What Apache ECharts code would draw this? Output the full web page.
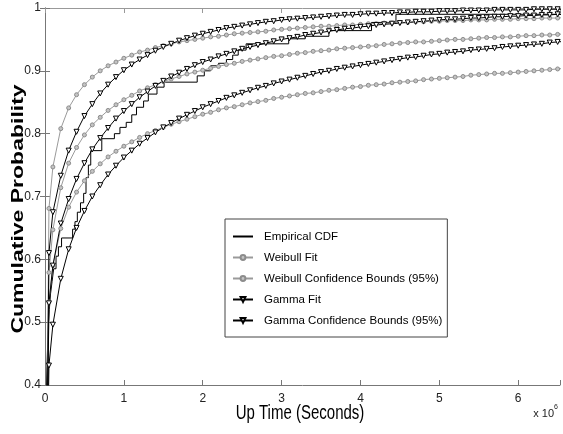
<!DOCTYPE html>
<html>
<head>
<meta charset="utf-8">
<script src="https://cdn.jsdelivr.net/npm/echarts@6/dist/echarts.min.js"></script>
<style>
html, body { margin: 0; padding: 0; background: #fff; }
#idChart { width: 563px; height: 434px; }
</style>
</head>
<body>
<div id="idChart"></div>
<script>
// up time in units of 10^6 seconds
var upTime = [0, 0.05, 0.1, 0.2, 0.3, 0.4, 0.5, 0.6, 0.7, 0.8, 0.9, 1.0,
  1.1, 1.2, 1.3, 1.4, 1.5, 1.6, 1.7, 1.8, 1.9, 2.0,
  2.1, 2.2, 2.3, 2.4, 2.5, 2.6, 2.7, 2.8, 2.9, 3.0,
  3.1, 3.2, 3.3, 3.4, 3.5, 3.6, 3.7, 3.8, 3.9, 4.0,
  4.1, 4.2, 4.3, 4.4, 4.5, 4.6, 4.7, 4.8, 4.9, 5.0,
  5.1, 5.2, 5.3, 5.4, 5.5, 5.6, 5.7, 5.8, 5.9, 6.0,
  6.1, 6.2, 6.3, 6.4, 6.5,
  6.6];

var weibullFit = [0, 0.579, 0.647, 0.714, 0.753, 0.778, 0.798, 0.814, 0.826, 0.837, 0.846, 0.854,
  0.861, 0.868, 0.873, 0.878, 0.883, 0.887, 0.891, 0.895, 0.898, 0.901,
  0.904, 0.907, 0.910, 0.912, 0.915, 0.917, 0.919, 0.921, 0.923, 0.924,
  0.926, 0.928, 0.929, 0.931, 0.932, 0.933, 0.935, 0.936, 0.937, 0.938,
  0.939, 0.940, 0.942, 0.943, 0.944, 0.945, 0.946, 0.946, 0.947, 0.948,
  0.949, 0.950, 0.950, 0.951, 0.952, 0.953, 0.953, 0.954, 0.954, 0.955,
  0.956, 0.956, 0.957, 0.957, 0.958,
  0.959];

var weibullUpper = [0, 0.681, 0.747, 0.808, 0.841, 0.862, 0.878, 0.890, 0.900, 0.908, 0.914, 0.920,
  0.925, 0.930, 0.933, 0.937, 0.940, 0.943, 0.946, 0.948, 0.950, 0.952,
  0.954, 0.955, 0.957, 0.959, 0.960, 0.961, 0.962, 0.963, 0.965, 0.966,
  0.967, 0.968, 0.969, 0.970, 0.971, 0.971, 0.972, 0.973, 0.973, 0.974,
  0.975, 0.975, 0.976, 0.976, 0.977, 0.977, 0.978, 0.978, 0.979, 0.979,
  0.980, 0.980, 0.980, 0.981, 0.981, 0.981, 0.982, 0.982, 0.982, 0.983,
  0.983, 0.983, 0.984, 0.984, 0.984,
  0.985];

var weibullLower = [0, 0.532, 0.590, 0.649, 0.683, 0.707, 0.725, 0.740, 0.752, 0.763, 0.772, 0.780,
  0.787, 0.794, 0.800, 0.805, 0.810, 0.815, 0.819, 0.823, 0.827, 0.831,
  0.834, 0.838, 0.841, 0.843, 0.846, 0.849, 0.851, 0.853, 0.856, 0.858,
  0.860, 0.862, 0.864, 0.865, 0.867, 0.869, 0.870, 0.872, 0.874, 0.875,
  0.877, 0.878, 0.879, 0.881, 0.882, 0.883, 0.884, 0.886, 0.887, 0.888,
  0.889, 0.890, 0.891, 0.893, 0.894, 0.895, 0.896, 0.896, 0.897, 0.898,
  0.899, 0.900, 0.901, 0.902, 0.903,
  0.904];

var gammaFit = [0, 0.530, 0.590, 0.657, 0.696, 0.728, 0.753, 0.775, 0.793, 0.809, 0.824, 0.836,
  0.847, 0.858, 0.867, 0.876, 0.884, 0.891, 0.897, 0.903, 0.909, 0.914,
  0.918, 0.923, 0.927, 0.931, 0.935, 0.938, 0.941, 0.944, 0.947, 0.950,
  0.952, 0.954, 0.957, 0.959, 0.961, 0.963, 0.965, 0.967, 0.968, 0.970,
  0.971, 0.973, 0.974, 0.975, 0.976, 0.977, 0.978, 0.979, 0.980, 0.981,
  0.982, 0.982, 0.983, 0.984, 0.984, 0.985, 0.986, 0.986, 0.987, 0.987,
  0.988, 0.988, 0.989, 0.989, 0.990,
  0.990];

var gammaUpper = [0, 0.610, 0.675, 0.733, 0.773, 0.803, 0.828, 0.847, 0.864, 0.878, 0.890, 0.901,
  0.910, 0.918, 0.925, 0.932, 0.938, 0.943, 0.948, 0.952, 0.956, 0.959,
  0.962, 0.965, 0.968, 0.970, 0.972, 0.974, 0.976, 0.978, 0.979, 0.981,
  0.982, 0.983, 0.984, 0.985, 0.986, 0.987, 0.988, 0.989, 0.989, 0.990,
  0.991, 0.991, 0.992, 0.992, 0.993, 0.993, 0.994, 0.994, 0.994, 0.995,
  0.995, 0.995, 0.996, 0.996, 0.996, 0.996, 0.997, 0.997, 0.997, 0.997,
  0.997, 0.998, 0.998, 0.998, 0.998,
  0.998];

var gammaLower = [0, 0.431, 0.496, 0.569, 0.616, 0.650, 0.677, 0.700, 0.718, 0.735, 0.749, 0.762,
  0.773, 0.784, 0.793, 0.802, 0.810, 0.817, 0.824, 0.830, 0.836, 0.842,
  0.847, 0.852, 0.857, 0.861, 0.865, 0.869, 0.873, 0.876, 0.880, 0.883,
  0.886, 0.889, 0.892, 0.895, 0.898, 0.900, 0.903, 0.905, 0.907, 0.909,
  0.911, 0.913, 0.915, 0.917, 0.919, 0.921, 0.922, 0.924, 0.926, 0.927,
  0.929, 0.930, 0.931, 0.933, 0.934, 0.935, 0.936, 0.938, 0.939, 0.940,
  0.941, 0.942, 0.943, 0.945, 0.946,
  0.947];

// empirical CDF: level starts at each time
var ecdfTime = [0.015, 0.025, 0.035, 0.045, 0.055, 0.07, 0.09, 0.11, 0.14, 0.17,
  0.21, 0.35, 0.38, 0.41, 0.45, 0.49, 0.52, 0.55, 0.58, 0.72,
  0.88, 0.95, 1.03, 1.1, 1.16, 1.25, 1.31, 1.42, 1.51, 1.93,
  2.02, 2.1, 2.2, 2.3, 2.38, 2.45, 2.55, 3.09, 3.3, 3.6,
  4.14, 4.45, 6.6];
var ecdfProb = [0.38, 0.43, 0.47, 0.50, 0.52, 0.545, 0.565, 0.585, 0.605, 0.62,
  0.634, 0.648, 0.66, 0.675, 0.69, 0.705, 0.73, 0.75, 0.773, 0.792,
  0.80, 0.81, 0.818, 0.83, 0.842, 0.852, 0.863, 0.874, 0.882, 0.892,
  0.90, 0.908, 0.912, 0.918, 0.925, 0.933, 0.943, 0.951, 0.955, 0.964,
  0.977, 0.99, 0.99];

var xTicks = [0, 1, 2, 3, 4, 5, 6];
var yTicks = ['0.4', '0.5', '0.6', '0.7', '0.8', '0.9', '1'];

var legendNames = ['Empirical CDF', 'Weibull Fit', 'Weibull Confidence Bounds (95%)',
  'Gamma Fit', 'Gamma Confidence Bounds (95%)'];

var font = '"Liberation Sans", Arial, sans-serif';

function pairs(xs, ys) {
  return xs.map(function (x, i) { return [x, ys[i]]; });
}

function weibullSeries(name, ys) {
  return {
    name: name, type: 'line', data: pairs(upTime, ys),
    symbol: 'circle', symbolSize: 4, showAllSymbol: true,
    lineStyle: { color: '#9a9a9a', width: 1 },
    itemStyle: { color: '#c4c4c4', borderColor: '#8c8c8c', borderWidth: 1 },
    emphasis: { disabled: true }
  };
}

function gammaSeries(name, ys) {
  return {
    name: name, type: 'line', data: pairs(upTime, ys),
    symbol: 'triangle', symbolRotate: 180, symbolSize: 5, showAllSymbol: true,
    lineStyle: { color: '#000', width: 1 },
    itemStyle: { color: '#fff', borderColor: '#000', borderWidth: 1 },
    emphasis: { disabled: true }
  };
}

var axisGray = '#777';

var Options = {
  animation: false,
  backgroundColor: '#fff',
  grid: { left: 45, right: 1, top: 8, bottom: 49 },
  xAxis: [{
    type: 'value', min: 0, max: 6.53, interval: 1,
    axisLine: { show: true, lineStyle: { color: axisGray } },
    axisTick: { inside: true, length: 5, lineStyle: { color: axisGray } },
    splitLine: { show: false },
    axisLabel: {
      color: '#222', fontFamily: font, fontSize: 12, margin: 8,
      formatter: function (v) { return xTicks.indexOf(v) >= 0 ? String(v) : ''; }
    }
  }, {
    type: 'value', position: 'top', min: 0, max: 6.53, interval: 1,
    axisLine: { show: true, lineStyle: { color: '#999' } },
    axisTick: { inside: true, length: 5, lineStyle: { color: '#999' } },
    axisLabel: { show: false }, splitLine: { show: false }
  }],
  yAxis: [{
    type: 'value', min: 0.4, max: 1, interval: 0.1,
    axisLine: { show: true, lineStyle: { color: axisGray } },
    axisTick: { inside: true, length: 5, lineStyle: { color: axisGray } },
    splitLine: { show: false },
    axisLabel: {
      color: '#222', fontFamily: font, fontSize: 12, margin: 4,
      formatter: function (v) { return yTicks[Math.round((v - 0.4) * 10)]; }
    }
  }, {
    type: 'value', position: 'right', min: 0.4, max: 1, interval: 0.1,
    axisLine: { show: true, lineStyle: { color: axisGray } },
    axisTick: { inside: true, length: 5, lineStyle: { color: axisGray } },
    axisLabel: { show: false }, splitLine: { show: false }
  }],
  legend: {
    orient: 'vertical', left: 225, top: 219,
    padding: [10, 5, 9, 7], itemGap: 6, itemWidth: 20, itemHeight: 6,
    borderColor: '#444', borderWidth: 1, backgroundColor: '#fff',
    textStyle: { fontFamily: font, fontSize: 11.5, color: '#000', padding: [0, 0, 0, 6], lineHeight: 15 },
    data: [
      { name: 'Empirical CDF', itemStyle: { opacity: 0 } },
      'Weibull Fit', 'Weibull Confidence Bounds (95%)', 'Gamma Fit', 'Gamma Confidence Bounds (95%)'
    ]
  },
  graphic: [{
    type: 'text', x: 300, y: 413, scaleX: 0.75,
    style: {
      text: 'Up Time (Seconds)', fontFamily: font, fontSize: 20, fill: '#000',
      align: 'center', verticalAlign: 'middle'
    }
  }, {
    type: 'text', x: 18, y: 209, rotation: Math.PI / 2, scaleY: 0.72,
    style: {
      text: 'Cumulative Probability', fontFamily: font, fontSize: 23, fontWeight: 'bold',
      fill: '#000', align: 'center', verticalAlign: 'middle'
    }
  }, {
    type: 'text', right: 5, top: 404,
    style: {
      text: '{a|x 10}{b|6}',
      rich: {
        a: { fontFamily: font, fontSize: 11, fill: '#222', padding: [6, 0, 0, 0] },
        b: { fontFamily: font, fontSize: 7, fill: '#222', padding: [0, 0, 6, 0] }
      }
    }
  }],
  series: [
    {
      name: 'Empirical CDF', type: 'line', step: 'end',
      data: pairs(ecdfTime, ecdfProb), symbol: 'none',
      lineStyle: { color: '#000', width: 1 }, itemStyle: { color: '#000' },
      emphasis: { disabled: true }
    },
    weibullSeries('Weibull Fit', weibullFit),
    weibullSeries('Weibull Confidence Bounds (95%)', weibullUpper),
    weibullSeries('Weibull Confidence Bounds (95%)', weibullLower),
    gammaSeries('Gamma Fit', gammaFit),
    gammaSeries('Gamma Confidence Bounds (95%)', gammaUpper),
    gammaSeries('Gamma Confidence Bounds (95%)', gammaLower)
  ]
};

var myChart = echarts.init(document.getElementById('idChart'));
myChart.setOption(Options);
</script>
</body>
</html>
